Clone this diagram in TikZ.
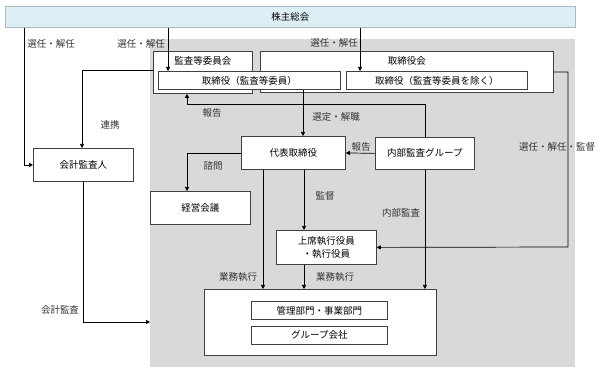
\documentclass[tikz,border=0pt]{standalone}
\usepackage{fontspec}
\setmainfont{Noto Sans CJK JP}
\usetikzlibrary{arrows.meta}
\definecolor{kabufill}{HTML}{DDEFF4}
\definecolor{kabuline}{HTML}{A8BAC2}

\begin{document}
\begin{tikzpicture}[x=1pt,y=-1pt,>={Triangle[length=4pt,width=4pt]},
   every node/.style={font=\fontsize{9.5}{13}\selectfont},
   box/.style 2 args={draw=black!75,line width=0.8pt,fill=white,inner sep=0pt,
     anchor=north west,align=center,minimum width=#1pt,minimum height=#2pt},
   title/.style={anchor=north,inner sep=0pt,yshift=-5pt},
   lbl/.style={text=black!80,inner sep=0pt},
   conn/.style={->,line width=0.7pt}]
  \useasboundingbox (0,0) rectangle (600,371);
  \node (bg) [fill=black!15,anchor=north west,inner sep=0pt,
     minimum width=425pt,minimum height=328pt] at (150,39) {};
  \node (kabu) [box={570}{21},draw=kabuline,fill=kabufill] at (5,6) {株主総会};

  % boards
  \node (kansa) [box={99}{42},label={[title]north:監査等委員会}] at (153,51) {};
  \node (torikai) [box={293}{41},label={[title]north:取締役会}] at (260,51) {};
  \node (dirA) [box={182}{18}] at (158,71) {取締役（監査等委員）};
  \node (dirB) [box={181}{18}] at (346,71) {取締役（監査等委員を除く）};

  % execution side
  \node (daihyo) [box={104}{33}] at (241,136) {代表取締役};
  \node (naibu) [box={99}{32}] at (375,137) {内部監査グループ};
  \node (keiei) [box={100}{33}] at (150,191) {経営会議};
  \node (kaikei) [box={100}{33}] at (33,148) {会計監査人};
  \node (joseki) [box={100}{34}] at (276,230) {上席執行役員\\・執行役員};
  \node (bumon) [box={232}{66}] at (204,289) {};
  \node (kanri) [box={136}{18}] at (251,301) {管理部門・事業部門};
  \node (group) [box={136}{18}] at (251,326) {グループ会社};

  % connectors
  \draw[conn] (kabu.south -| 24,0) |- (kaikei.west);
  \draw[conn] (kabu.south -| 168,0) -- (dirA.north -| 168,0);
  \draw[conn] (kabu.south -| 360,0) -- (dirB.north -| 360,0);
  \draw[conn] (kansa.west |- 0,70) -| (kaikei.north -| 82,0);
  \draw[conn] (naibu.north) |- (187,104) -- (kansa.south -| 187,0);
  \draw[conn] (dirA.south -| 303,0) -- (daihyo.north -| 303,0);
  \draw[conn] (naibu.west) -- (daihyo.east);
  \draw[conn] (daihyo.west) -| (keiei.north -| 187,0);
  \draw[conn] (daihyo.south -| 304,0) -- (joseki.north -| 304,0);
  \draw[conn] (daihyo.south -| 263,0) -- (bumon.north -| 263,0);
  \draw[conn] (joseki.south -| 304,0) -- (bumon.north -| 304,0);
  \draw[conn] (naibu.south) -- (bumon.north -| naibu.south);
  \draw[conn] (torikai.east |- 0,72) -| (568,247) -- (joseki.east);
  \draw[conn] (kaikei.south) |- (bg.west |- 0,322);

  % labels
  \node (l1) [lbl] at (51,44) {選任・解任};
  \node (l2) [lbl] at (141,44) {選任・解任};
  \node (l3) [lbl] at (334,43) {選任・解任};
  \node (l4) [lbl] at (110,125) {連携};
  \node (l5) [lbl] at (212,113) {報告};
  \node (l6) [lbl] at (336,117) {選定・解職};
  \node (l7) [lbl] at (361,147) {報告};
  \node (l8) [lbl] at (213,166) {諮問};
  \node (l9) [lbl] at (325,196) {監督};
  \node (l10) [lbl] at (401,213) {内部監査};
  \node (l11) [lbl] at (557,147) {選任・解任・監督};
  \node (l12) [lbl] at (238,277) {業務執行};
  \node (l13) [lbl] at (335,277) {業務執行};
  \node (l14) [lbl] at (60,310) {会計監査};
\end{tikzpicture}
\end{document}
